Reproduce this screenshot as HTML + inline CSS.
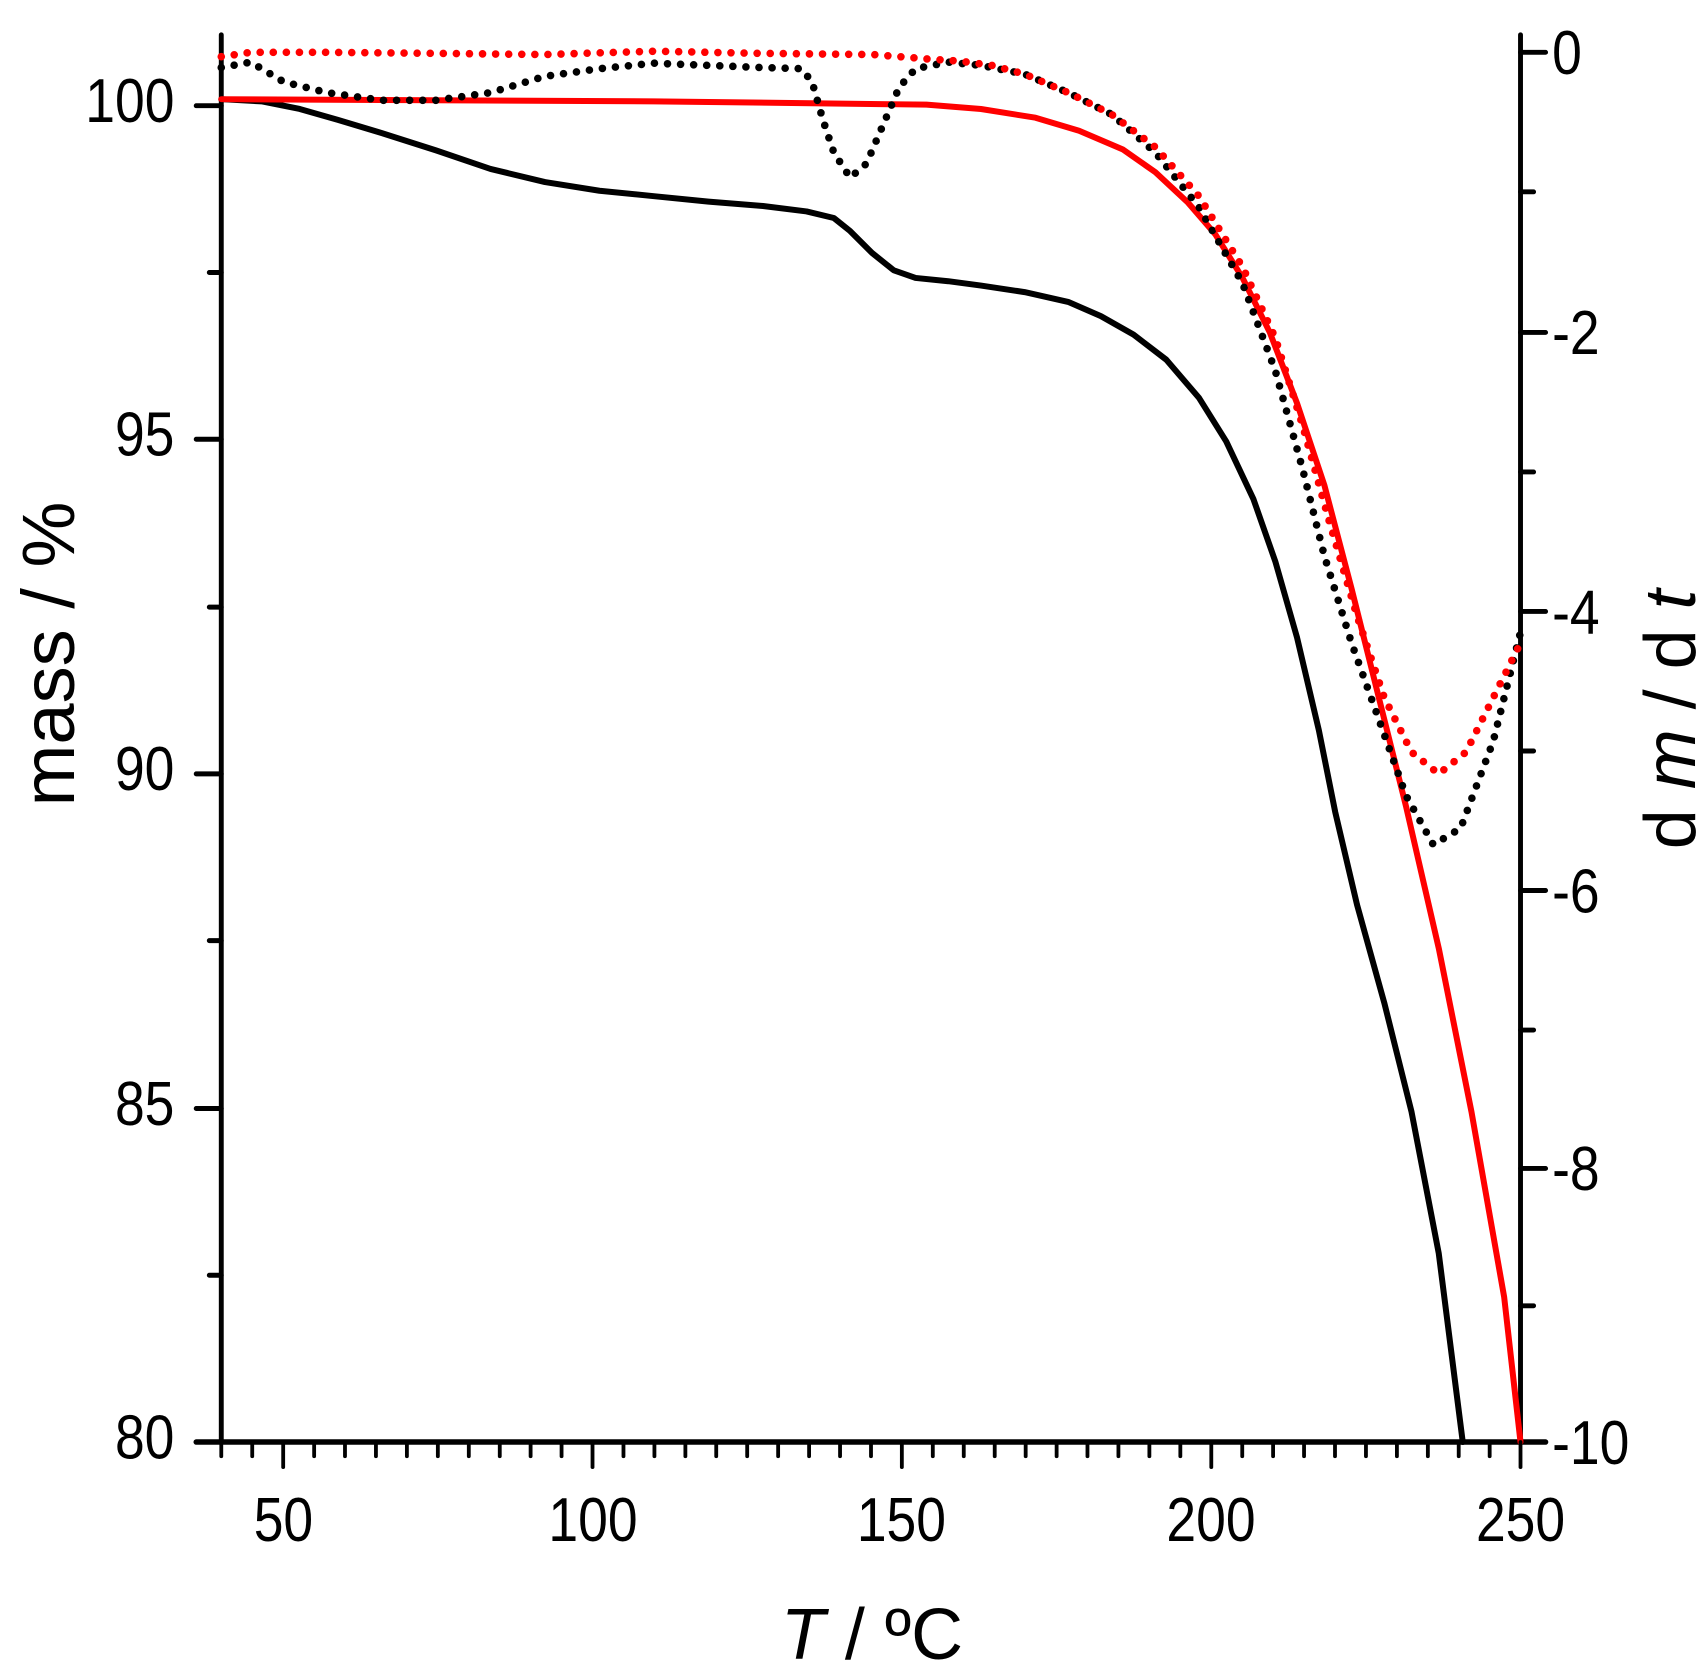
<!DOCTYPE html>
<html><head><meta charset="utf-8"><style>
html,body{margin:0;padding:0;background:#fff;}
svg{display:block;}
text{font-family:"Liberation Sans",Arial,sans-serif;fill:#000;}
</style></head><body>
<svg width="1708" height="1678" viewBox="0 0 1567 1539.5" xmlns="http://www.w3.org/2000/svg">
<g stroke="#000" stroke-width="4.5" stroke-linecap="round" fill="none">
<line x1="203" y1="32" x2="203" y2="1323"/>
<line x1="1395" y1="32" x2="1395" y2="1323"/>
<line x1="180" y1="1323" x2="1418" y2="1323" stroke-width="5"/>
<path d="M180 97H203M180 403H203M180 710H203M180 1017H203M192 250H203M192 557H203M192 863H203M192 1170H203"/>
<path d="M1395 48H1418M1395 305H1418M1395 561H1418M1395 817H1418M1395 1072H1418M1407 176H1395M1407 433H1395M1407 689H1395M1407 945H1395M1407 1198H1395"/>
</g>
<g font-size="57" text-anchor="end">
<text transform="translate(160,112) scale(0.86,1)">100</text>
<text transform="translate(160,418) scale(0.86,1)">95</text>
<text transform="translate(160,725) scale(0.86,1)">90</text>
<text transform="translate(160,1032) scale(0.86,1)">85</text>
<text transform="translate(160,1338) scale(0.86,1)">80</text>
</g>
<g font-size="57" text-anchor="start">
<text transform="translate(1424,68) scale(0.86,1)">0</text>
<text transform="translate(1424,325) scale(0.86,1)">-2</text>
<text transform="translate(1424,581) scale(0.86,1)">-4</text>
<text transform="translate(1424,837) scale(0.86,1)">-6</text>
<text transform="translate(1424,1092) scale(0.86,1)">-8</text>
<text transform="translate(1424,1343) scale(0.86,1)">-10</text>
</g>
<g font-size="57" text-anchor="middle">
<text transform="translate(260,1414) scale(0.86,1)">50</text>
<text transform="translate(544,1414) scale(0.86,1)">100</text>
<text transform="translate(827,1414) scale(0.86,1)">150</text>
<text transform="translate(1111,1414) scale(0.86,1)">200</text>
<text transform="translate(1395,1414) scale(0.86,1)">250</text>
</g>
<text x="800" y="1522" font-size="66" text-anchor="middle"><tspan font-style="italic">T</tspan> / ºC</text>
<text transform="translate(68,600) rotate(-90)" font-size="68" text-anchor="middle">mass / %</text>
<text transform="translate(1555,660) rotate(-90)" font-size="66" text-anchor="middle">d <tspan font-style="italic">m</tspan> / d <tspan font-style="italic">t</tspan></text>

<g fill="none" stroke-linejoin="round" stroke-linecap="round">
<polyline stroke="#000" stroke-width="5.5" points="203,91 240,93 275,100 310,110 350,122 400,138 450,155 500,167 550,175 600,180 650,185 700,189 740,194 765,200 780,212 800,232 820,248 840,255 870,258 900,262 940,268 980,277 1010,290 1040,307 1070,330 1100,365 1125,405 1150,458 1170,515 1190,585 1210,670 1225,745 1245,830 1270,920 1295,1020 1320,1150 1342,1323"/>
<polyline stroke="#f00" stroke-width="5.5" points="203,91 600,93 850,96 900,100 950,108 990,120 1030,137 1060,158 1090,186 1115,215 1140,255 1165,305 1190,370 1215,445 1240,540 1265,640 1290,740 1320,870 1350,1020 1380,1190 1395,1323"/>
<polyline stroke="#000" stroke-width="7" stroke-dasharray="0 12" points="203,62 230,57 260,75 300,85 350,92 400,92 450,85 500,70 550,63 600,58 650,60 700,62 735,63 745,75 755,110 765,140 780,163 795,150 810,115 825,80 840,63 870,57 900,60 940,68 980,85 1020,105 1060,140 1100,190 1140,260 1170,340 1195,430 1215,510 1240,590 1265,660 1290,730 1315,775 1340,760 1370,680 1395,580"/>
<polyline stroke="#f00" stroke-width="7" stroke-dasharray="0 12" points="203,52 230,48 300,48 400,49 500,50 600,47 700,49 800,50 850,54 880,56 910,60 940,68 980,85 1020,105 1060,135 1100,180 1140,245 1170,310 1195,390 1220,480 1245,565 1270,640 1295,690 1320,710 1345,690 1370,640 1395,590"/>
</g>
<g stroke="#000" stroke-width="3.5" stroke-linecap="round">
<line x1="203" y1="1323" x2="203" y2="1336"/><line x1="231.4" y1="1323" x2="231.4" y2="1336"/><line x1="259.8" y1="1323" x2="259.8" y2="1346"/><line x1="288.2" y1="1323" x2="288.2" y2="1336"/><line x1="316.5" y1="1323" x2="316.5" y2="1336"/><line x1="344.9" y1="1323" x2="344.9" y2="1336"/><line x1="373.3" y1="1323" x2="373.3" y2="1336"/><line x1="401.7" y1="1323" x2="401.7" y2="1336"/><line x1="430.1" y1="1323" x2="430.1" y2="1336"/><line x1="458.5" y1="1323" x2="458.5" y2="1336"/><line x1="486.8" y1="1323" x2="486.8" y2="1336"/><line x1="515.2" y1="1323" x2="515.2" y2="1336"/><line x1="543.6" y1="1323" x2="543.6" y2="1346"/><line x1="572" y1="1323" x2="572" y2="1336"/><line x1="600.4" y1="1323" x2="600.4" y2="1336"/><line x1="628.8" y1="1323" x2="628.8" y2="1336"/><line x1="657.1" y1="1323" x2="657.1" y2="1336"/><line x1="685.5" y1="1323" x2="685.5" y2="1336"/><line x1="713.9" y1="1323" x2="713.9" y2="1336"/><line x1="742.3" y1="1323" x2="742.3" y2="1336"/><line x1="770.7" y1="1323" x2="770.7" y2="1336"/><line x1="799.1" y1="1323" x2="799.1" y2="1336"/><line x1="827.4" y1="1323" x2="827.4" y2="1346"/><line x1="855.8" y1="1323" x2="855.8" y2="1336"/><line x1="884.2" y1="1323" x2="884.2" y2="1336"/><line x1="912.6" y1="1323" x2="912.6" y2="1336"/><line x1="941" y1="1323" x2="941" y2="1336"/><line x1="969.4" y1="1323" x2="969.4" y2="1336"/><line x1="997.7" y1="1323" x2="997.7" y2="1336"/><line x1="1026.1" y1="1323" x2="1026.1" y2="1336"/><line x1="1054.5" y1="1323" x2="1054.5" y2="1336"/><line x1="1082.9" y1="1323" x2="1082.9" y2="1336"/><line x1="1111.3" y1="1323" x2="1111.3" y2="1346"/><line x1="1139.7" y1="1323" x2="1139.7" y2="1336"/><line x1="1168" y1="1323" x2="1168" y2="1336"/><line x1="1196.4" y1="1323" x2="1196.4" y2="1336"/><line x1="1224.8" y1="1323" x2="1224.8" y2="1336"/><line x1="1253.2" y1="1323" x2="1253.2" y2="1336"/><line x1="1281.6" y1="1323" x2="1281.6" y2="1336"/><line x1="1310" y1="1323" x2="1310" y2="1336"/><line x1="1338.3" y1="1323" x2="1338.3" y2="1336"/><line x1="1366.7" y1="1323" x2="1366.7" y2="1336"/><line x1="1395" y1="1323" x2="1395" y2="1346"/>
</g>
</svg>
</body></html>
